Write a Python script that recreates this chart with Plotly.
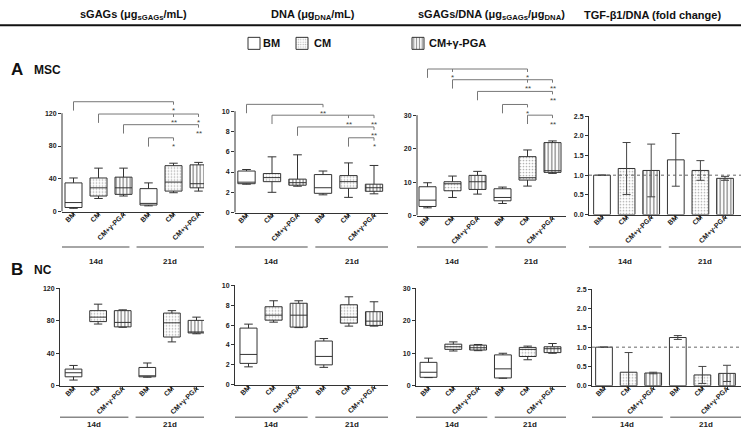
import plotly.graph_objects as go

W, H = 741, 433

cat_labels = ["BM", "CM", "CM+γ-PGA", "BM", "CM", "CM+γ-PGA"]
day_labels = ["14d", "21d"]
group_names = ["BM", "CM", "CM+γ-PGA"]

# order of every list: BM-14d, CM-14d, CM+γ-PGA-14d, BM-21d, CM-21d, CM+γ-PGA-21d
# ---- A: MSC ----
msc_sgag_min = [4, 16, 19, 7, 23, 25]
msc_sgag_q1 = [5, 19, 21, 8, 25, 29]
msc_sgag_med = [11, 29, 29, 10, 36, 34]
msc_sgag_q3 = [35, 41, 42, 28, 56, 57]
msc_sgag_max = [41, 53, 53, 35, 59, 60]

msc_dna_min = [2.8, 2.0, 2.6, 1.75, 1.5, 1.85]
msc_dna_q1 = [2.85, 3.05, 2.7, 1.9, 2.4, 2.1]
msc_dna_med = [3.0, 3.45, 2.95, 2.45, 3.05, 2.45]
msc_dna_q3 = [4.1, 3.85, 3.3, 3.75, 3.65, 2.8]
msc_dna_max = [4.25, 5.5, 5.7, 4.1, 4.9, 4.65]

msc_ratio_min = [2.3, 5.4, 6.4, 3.6, 8.8, 12.6]
msc_ratio_q1 = [2.7, 7.4, 7.8, 4.4, 10.6, 12.9]
msc_ratio_med = [4.6, 9.5, 10.1, 5.4, 11.3, 13.4]
msc_ratio_q3 = [8.6, 10.1, 12.0, 8.0, 17.6, 21.8]
msc_ratio_max = [9.8, 11.8, 13.2, 8.5, 19.6, 22.3]

msc_tgf_mean = [1.0, 1.17, 1.12, 1.39, 1.12, 0.92]
msc_tgf_err = [0.0, 0.66, 0.67, 0.67, 0.25, 0.05]

# ---- B: NC ----
nc_sgag_min = [7, 76, 72, 10.5, 54, 64]
nc_sgag_q1 = [11, 79, 72.5, 11, 60, 65]
nc_sgag_med = [16, 84.5, 78, 12, 77.5, 66]
nc_sgag_q3 = [20.5, 92.5, 92.5, 22.5, 89.5, 80.5]
nc_sgag_max = [25, 100.5, 93.5, 28, 92.5, 84.5]

nc_dna_min = [1.8, 6.3, 5.75, 1.75, 5.9, 5.9]
nc_dna_q1 = [2.15, 6.5, 5.8, 2.0, 6.2, 5.97]
nc_dna_med = [3.05, 7.0, 7.0, 2.85, 6.8, 6.4]
nc_dna_q3 = [5.7, 7.85, 8.2, 4.4, 8.05, 7.35]
nc_dna_max = [6.1, 8.45, 8.45, 4.65, 8.85, 8.35]

nc_ratio_min = [2.5, 10.7, 10.8, 2.3, 8.0, 10.0]
nc_ratio_q1 = [2.6, 11.2, 11.0, 2.4, 9.0, 10.2]
nc_ratio_med = [4.15, 12.0, 11.7, 5.2, 11.2, 11.4]
nc_ratio_q3 = [7.2, 12.8, 12.5, 9.5, 11.8, 12.0]
nc_ratio_max = [8.5, 13.5, 12.7, 10.0, 12.2, 13.0]

nc_tgf_mean = [1.0, 0.35, 0.33, 1.25, 0.28, 0.32]
nc_tgf_err = [0.0, 0.51, 0.02, 0.05, 0.22, 0.21]

# significance brackets: (from category, to category, level, [(category, label)])
msc_sgag_sig = [(0, 4, 134, [(4, "*")]), (1, 5, 119, [(4, "**"), (5, "*")]),
                (2, 5, 106, [(5, "**")]), (3, 4, 90, [(4, "*")])]
msc_dna_sig = [(0, 3, 10.68, [(3, "**")]), (1, 5, 9.61, [(4, "**"), (5, "**")]),
               (2, 5, 8.45, [(5, "**")]), (4, 5, 7.38, [(5, "*")])]
msc_ratio_sig = [(0, 4, 43.8, [(1, "*"), (4, "*")]), (1, 5, 40.6, [(4, "**"), (5, "**")]),
                 (2, 5, 37.1, [(5, "**")]), (3, 4, 33.2, [(4, "*")]), (4, 5, 30.0, [(5, "**")])]

FONT = "Liberation Sans, Arial, sans-serif"
DARK = "#333333"

STYLE = {
    "BM": dict(color="white"),
    "CM": dict(color="white", pattern=dict(shape=".", fgcolor="#666666", size=3, solidity=0.25)),
    "CM+γ-PGA": dict(color="white", pattern=dict(shape="|", fgcolor="#222222", size=3.5, solidity=0.4)),
}

# layout of the 8 panels (pixel geometry)
panels = [
    dict(kind="box", stats=(msc_sgag_min, msc_sgag_q1, msc_sgag_med, msc_sgag_q3, msc_sgag_max),
         xl=62, xr=204, c0=73.5, sp=25.0, y0=211, yt=111, top=120, tv=[0, 40, 80, 120], ext=92, sig=msc_sgag_sig, fmt=""),
    dict(kind="box", stats=(msc_dna_min, msc_dna_q1, msc_dna_med, msc_dna_q3, msc_dna_max),
         xl=235, xr=388, c0=246.5, sp=25.5, y0=212, yt=109, top=10, tv=[0, 2, 4, 6, 8, 10], ext=95, sig=msc_dna_sig, fmt=""),
    dict(kind="box", stats=(msc_ratio_min, msc_ratio_q1, msc_ratio_med, msc_ratio_q3, msc_ratio_max),
         xl=417, xr=566, c0=427.5, sp=25.0, y0=215, yt=113, top=30, tv=[0, 10, 20, 30], ext=60, sig=msc_ratio_sig, fmt=""),
    dict(kind="bar", mean=msc_tgf_mean, err=msc_tgf_err,
         xl=589, xr=741, c0=602, sp=24.6, y0=214, yt=114, top=2.5, tv=[0, 0.5, 1, 1.5, 2, 2.5], ext=None, sig=None, fmt=".1f"),
    dict(kind="box", stats=(nc_sgag_min, nc_sgag_q1, nc_sgag_med, nc_sgag_q3, nc_sgag_max),
         xl=60, xr=204, c0=73.5, sp=24.6, y0=388, yt=289, top=120, tv=[0, 40, 80, 120], ext=None, sig=None, fmt=""),
    dict(kind="box", stats=(nc_dna_min, nc_dna_q1, nc_dna_med, nc_dna_q3, nc_dna_max),
         xl=235, xr=388, c0=248.5, sp=25.1, y0=387, yt=286, top=10, tv=[0, 2, 4, 6, 8, 10], ext=None, sig=None, fmt=""),
    dict(kind="box", stats=(nc_ratio_min, nc_ratio_q1, nc_ratio_med, nc_ratio_q3, nc_ratio_max),
         xl=416, xr=566, c0=428.5, sp=24.8, y0=388, yt=289, top=30, tv=[0, 10, 20, 30], ext=None, sig=None, fmt=""),
    dict(kind="bar", mean=nc_tgf_mean, err=nc_tgf_err,
         xl=592, xr=741, c0=604, sp=24.6, y0=388, yt=290, top=2.5, tv=[0, 0.5, 1, 1.5, 2, 2.5], ext=None, sig=None, fmt=".1f"),
]

fig = go.Figure()
shapes = []
annotations = []
BW = 0.68

for k, p in enumerate(panels, start=1):
    xs = "x" if k == 1 else f"x{k}"
    ys = "y" if k == 1 else f"y{k}"
    xname = "xaxis" if k == 1 else f"xaxis{k}"
    yname = "yaxis" if k == 1 else f"yaxis{k}"
    pxu = (p["y0"] - p["yt"]) / p["top"]
    ytop_px = p["ext"] if p["ext"] else p["yt"]
    rtop = (p["y0"] - ytop_px) / pxu

    for g, name in enumerate(group_names):
        idx = [g, g + 3]
        st = STYLE[name]
        marker = dict(color=st["color"])
        if "pattern" in st:
            marker["pattern"] = st["pattern"]
        if p["kind"] == "box":
            mn, q1, md, q3, mx = p["stats"]
            marker["line"] = dict(width=0)
            fig.add_trace(go.Bar(x=idx, y=[q3[i] - q1[i] for i in idx], base=[q1[i] for i in idx],
                                 width=BW, marker=marker, xaxis=xs, yaxis=ys, showlegend=False,
                                 hoverinfo="skip"))
            fig.add_trace(go.Box(x=idx, q1=[q1[i] for i in idx], median=[md[i] for i in idx],
                                 q3=[q3[i] for i in idx], lowerfence=[mn[i] for i in idx],
                                 upperfence=[mx[i] for i in idx], width=BW, whiskerwidth=0.5,
                                 fillcolor="rgba(0,0,0,0)", line=dict(color=DARK, width=1),
                                 boxpoints=False, xaxis=xs, yaxis=ys, showlegend=False, name=name))
        else:
            marker["line"] = dict(color=DARK, width=1)
            err = [p["err"][i] for i in idx]
            leg = "legend" if g == 0 else f"legend{g + 1}"
            fig.add_trace(go.Bar(x=idx, y=[p["mean"][i] for i in idx], width=BW, marker=marker,
                                 error_y=dict(type="data", array=err, visible=True, color="#444444",
                                              thickness=1, width=4),
                                 xaxis=xs, yaxis=ys, name=" ",
                                 showlegend=(k == 4), legend=leg))

    fig.layout[xname] = dict(
        domain=[p["xl"] / W, p["xr"] / W],
        range=[(p["xl"] - p["c0"]) / p["sp"], (p["xr"] - p["c0"]) / p["sp"]],
        anchor=ys, showline=True, linecolor=DARK, linewidth=1, showgrid=False, zeroline=False,
        tickmode="array", tickvals=list(range(6)), ticktext=cat_labels, tickangle=-45,
        ticks="outside", ticklen=3, tickcolor=DARK, ticklabelstandoff=-8,
        tickfont=dict(family=FONT, size=7, color="#222", weight="bold"),
    )
    fig.layout[yname] = dict(
        domain=[1 - p["y0"] / H, 1 - ytop_px / H],
        range=[0, rtop], anchor=xs, showline=(p["ext"] is None), linecolor=DARK, linewidth=1,
        showgrid=False, zeroline=False, tickmode="array", tickvals=p["tv"], tickformat=p["fmt"],
        ticks="outside", ticklen=3, tickcolor=DARK,
        tickfont=dict(family=FONT, size=7, color="#222", weight="bold"),
    )

    if p["ext"]:
        shapes.append(dict(type="line", xref=f"{xs} domain", yref=ys, x0=0, x1=0, y0=0, y1=p["top"],
                           line=dict(color=DARK, width=1)))
    if p["sig"]:
        drop = 9 / pxu
        tick = 3 / pxu
        for a, b, lev, marks in p["sig"]:
            lc = dict(color="#777777", width=1)
            shapes.append(dict(type="line", xref=xs, yref=ys, x0=a, x1=b, y0=lev, y1=lev, line=lc))
            shapes.append(dict(type="line", xref=xs, yref=ys, x0=a, x1=a, y0=lev, y1=lev - drop, line=lc))
            for c, lab in marks:
                shapes.append(dict(type="line", xref=xs, yref=ys, x0=c, x1=c, y0=lev, y1=lev - tick, line=lc))
                annotations.append(dict(x=c, y=lev - 2.5 / pxu, xref=xs, yref=ys, text=lab, showarrow=False,
                                        yanchor="top", xanchor="center",
                                        font=dict(family=FONT, size=8, color="#444")))
    if p["kind"] == "bar":
        shapes.append(dict(type="line", xref=f"{xs} domain", yref=ys, x0=0, x1=1, y0=1, y1=1,
                           line=dict(color="#666666", width=1, dash="dot")))

    # day group lines and labels
    gy = 247 if k <= 4 else 420
    ly = 262 if k <= 4 else 427
    for j, (d0, d1) in enumerate([(0.0, 0.475), (0.525, 1.0)]):
        shapes.append(dict(type="line", xref=f"{xs} domain", yref="paper", x0=d0, x1=d1,
                           y0=1 - gy / H, y1=1 - gy / H, line=dict(color="#888888", width=1.5)))
        annotations.append(dict(x=(d0 + d1) / 2, y=1 - ly / H, xref=f"{xs} domain", yref="paper",
                                text=day_labels[j], showarrow=False, xanchor="center", yanchor="middle",
                                font=dict(family=FONT, size=8, color="#222", weight="bold")))

# column titles
titles = [(133, "sGAGs (μg<sub>sGAGs</sub>/mL)"), (313, "DNA (μg<sub>DNA</sub>/mL)"),
          (491, "sGAGs/DNA (μg<sub>sGAGs</sub>/μg<sub>DNA</sub>)"), (652, "TGF-β1/DNA (fold change)")]
for xp, t in titles:
    annotations.append(dict(x=xp / W, y=1 - 11 / H, xref="paper", yref="paper", text=t, showarrow=False,
                            xanchor="center", yanchor="middle",
                            font=dict(family=FONT, size=11, color="#111", weight="bold")))
shapes.append(dict(type="line", xref="paper", yref="paper", x0=0, x1=1, y0=1 - 21.5 / H, y1=1 - 21.5 / H,
                   line=dict(color="#111", width=2)))

# panel labels
for yp, big, small in [(67, "A", "MSC"), (270, "B", "NC")]:
    annotations.append(dict(x=9 / W, y=1 - yp / H, xref="paper", yref="paper", text=big, showarrow=False,
                            xanchor="left", yanchor="middle",
                            font=dict(family=FONT, size=17, color="#111", weight="bold")))
    annotations.append(dict(x=32 / W, y=1 - (yp + 0.5) / H, xref="paper", yref="paper", text=small,
                            showarrow=False, xanchor="left", yanchor="middle",
                            font=dict(family=FONT, size=12, color="#111", weight="bold")))

# legend (three separate legends, text as annotations)
leg_pos = [(248, 261), (296, 312), (412, 427)]
layout_legends = {}
for g, (sq, tx) in enumerate(leg_pos):
    lname = "legend" if g == 0 else f"legend{g + 1}"
    layout_legends[lname] = dict(x=(sq - 14) / W, y=1 - 40 / H, xanchor="left", yanchor="middle",
                                 orientation="h", bgcolor="rgba(0,0,0,0)", borderwidth=0,
                                 font=dict(family=FONT, size=11), itemwidth=30)
    annotations.append(dict(x=tx / W, y=1 - 40 / H, xref="paper", yref="paper", text=group_names[g],
                            showarrow=False, xanchor="left", yanchor="middle",
                            font=dict(family=FONT, size=11, color="#111", weight="bold")))

fig.update_layout(
    width=W, height=H, autosize=False, margin=dict(l=0, r=0, t=0, b=0),
    paper_bgcolor="white", plot_bgcolor="white", barmode="overlay", boxmode="overlay",
    shapes=shapes, annotations=annotations, **layout_legends,
)

fig.write_html("out.html", config={"displayModeBar": False},
               post_script="document.body.style.margin='0';document.body.style.overflow='hidden';")
